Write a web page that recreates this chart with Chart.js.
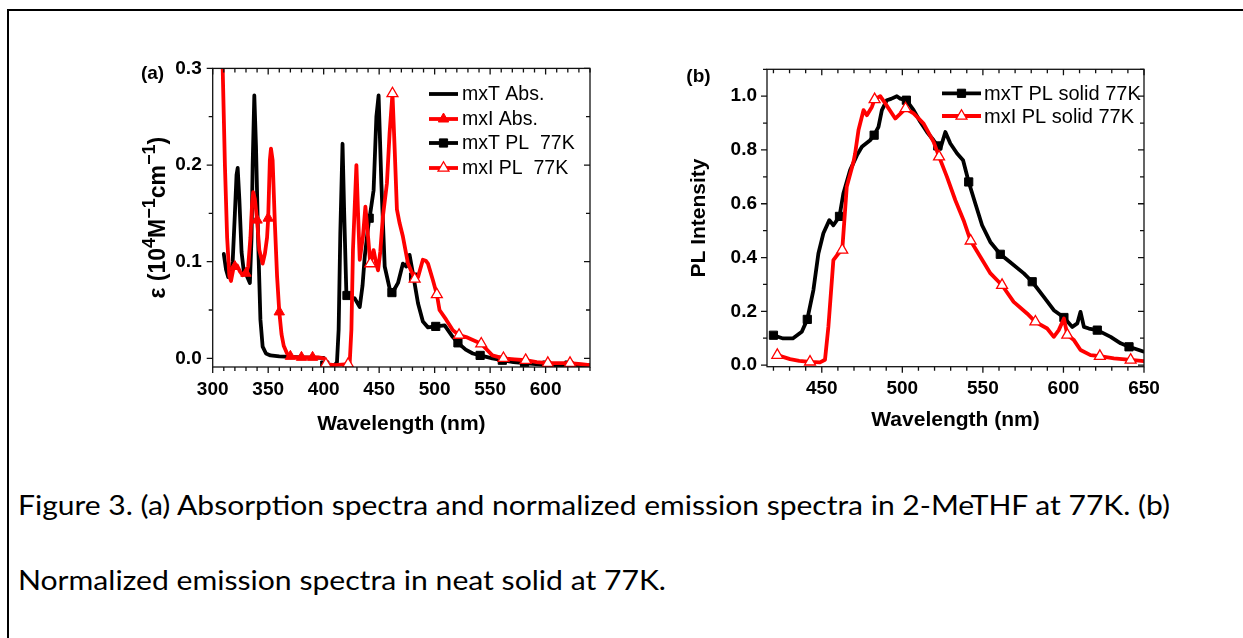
<!DOCTYPE html>
<html><head><meta charset="utf-8">
<script src="https://cdn.jsdelivr.net/npm/chart.js@4.4.0/dist/chart.umd.min.js"></script>
<style>
html,body{margin:0;padding:0;background:#fff;width:1243px;height:638px;overflow:hidden;position:relative}
#frame{position:absolute;left:7px;top:9px;width:1300px;height:700px;border-left:2px solid #000;border-top:2px solid #000}
canvas{position:absolute}
.cap{position:absolute;left:18px;font-family:Lato,'Open Sans',sans-serif;font-size:26px;line-height:1.2;color:#000;white-space:nowrap;transform-origin:0 0}
</style></head><body>
<div id="frame"></div>
<canvas id="ca" width="520" height="420" style="left:100px;top:30px"></canvas>
<canvas id="cb" width="530" height="420" style="left:650px;top:30px"></canvas>
<div class="cap" id="cap1" style="top:490px">Figure 3. (a) Absorption spectra and normalized emission spectra in 2-MeTHF at 77K. (b)</div>
<div class="cap" id="cap2" style="top:565px">Normalized emission spectra in neat solid at 77K.</div>
<script>
// ---------- Panel (a) data ----------
const aXTicks = [300, 350, 400, 450, 500, 550, 600];
const aYTicks = [0.0, 0.1, 0.2, 0.3];

const aMxTAbsWl  = [310,312,314,316,318,320,321.5,322.5,324,326,328,330.5,333.5,335,336,337.5,339,341,343,345,348,352,360,380,400];
const aMxTAbsVal = [0.108,0.092,0.084,0.085,0.100,0.150,0.190,0.197,0.165,0.110,0.090,0.086,0.078,0.125,0.200,0.272,0.220,0.120,0.040,0.012,0.005,0.003,0.002,0.001,0.0005];

const aMxIAbsWl  = [306,309,311,313,315,316.5,318.5,320,322,324.5,327,330,332,334,335.5,336.5,338,340,342,345,347,349,350,351.5,352.5,354,356,358,360,362,364,367,370,375,380,385,390,395,400];
const aMxIAbsVal = [0.50,0.30,0.20,0.125,0.085,0.080,0.092,0.095,0.096,0.090,0.086,0.088,0.095,0.125,0.160,0.172,0.165,0.143,0.112,0.098,0.108,0.125,0.145,0.205,0.217,0.205,0.140,0.085,0.048,0.025,0.013,0.005,0.002,0.001,0.001,0.001,0.001,0.001,0.000];
const aMxIAbsMarks = [320,330,340,350,360,370,380,390];

const aMxTPLWl  = [400,401,410,412,413.5,415,417,418.5,420.5,421,424,428,432.5,435,437,441,442,445,447.5,449.5,452,455,459.5,461.5,464,467,471.4,474.5,477.4,481,485,489.4,494,501,509,516.4,521,528,534.4,541,552,561,571,581,591,601,611,621,631,640];
const aMxTPLVal = [-0.007,-0.007,-0.007,-0.004,0.030,0.130,0.222,0.150,0.065,0.065,0.063,0.062,0.053,0.075,0.105,0.145,0.150,0.174,0.250,0.272,0.181,0.095,0.072,0.068,0.072,0.078,0.098,0.095,0.107,0.084,0.057,0.038,0.032,0.033,0.034,0.022,0.016,0.009,0.005,0.003,0.000,-0.002,-0.004,-0.005,-0.006,-0.007,-0.007,-0.007,-0.007,-0.007];
const aMxTPLMarks = [401,421,441,461.5,481,501,521,541,561,581,601,621];

const aMxIPLWl  = [400,402,410,422,423.5,425,426.4,429.5,431,432.5,435.4,437.6,440,442,445,447,449,451,453.4,457,459.4,462,464,466,468.4,471.4,476,482,485,489.4,492,494,498.4,502,504.4,510.4,516.4,522,528.4,534.4,542,552,562,572,582,592,602,612,622,632,640];
const aMxIPLVal = [-0.006,-0.006,-0.007,-0.006,-0.004,0.030,0.112,0.200,0.150,0.102,0.126,0.157,0.126,0.098,0.112,0.100,0.091,0.110,0.147,0.181,0.233,0.274,0.216,0.154,0.140,0.126,0.098,0.082,0.084,0.102,0.101,0.098,0.081,0.066,0.050,0.040,0.029,0.024,0.022,0.019,0.015,0.003,0.000,-0.001,-0.002,-0.004,-0.005,-0.005,-0.005,-0.006,-0.007];
const aMxIPLMarks = [402,422,442,462,482,502,522,542,562,582,602,622];

// ---------- Panel (b) data ----------
const bXTicks = [450, 500, 550, 600, 650];
const bYTicks = [0.0, 0.2, 0.4, 0.6, 0.8, 1.0];

const bMxTWl  = [420,426,432,437.6,441,444.8,447.9,451,454.7,457.2,461,463.4,467.6,471.8,474.9,480,482.5,485.2,487.3,490.4,493,496.6,498.7,502.5,507,511.1,515.3,519.4,522,523.6,526.7,529.8,534,537.7,541.2,545.3,549.5,554.6,560.8,566.6,575.4,580.6,587.8,594,600.3,605.5,608.6,610.6,612.7,615.8,621,629.3,635.5,640.7,650];
const bMxTVal = [0.111,0.099,0.099,0.124,0.170,0.279,0.415,0.490,0.539,0.520,0.553,0.638,0.725,0.780,0.812,0.836,0.855,0.886,0.948,0.985,0.990,1.000,0.991,0.985,0.948,0.905,0.867,0.836,0.815,0.805,0.867,0.824,0.787,0.762,0.681,0.601,0.520,0.458,0.412,0.384,0.341,0.310,0.254,0.204,0.177,0.142,0.155,0.198,0.142,0.136,0.130,0.105,0.081,0.068,0.050];
const bMxTMarks = [420,441,461,482.5,502.5,522,541.2,560.8,580.6,600.3,621,640.7];

const bMxIWl  = [422.4,430.3,436,442.7,448.9,452,454.1,457.2,460.3,462.7,465.5,469.7,470.7,472.8,475.9,478,481.1,482.8,486.3,489.4,495.6,502,507,513.2,519.4,522.8,527.7,532.9,538,542.4,548.4,554.7,561.9,569.1,577.4,582.6,589.9,594,597.1,600.3,602.4,606.5,610.6,616.8,622.6,631.3,641.7,650];
const bMxIVal = [0.037,0.022,0.016,0.012,0.010,0.020,0.142,0.390,0.415,0.428,0.663,0.756,0.787,0.874,0.948,0.929,0.960,0.988,1.000,0.973,0.917,0.954,0.936,0.898,0.830,0.775,0.700,0.613,0.539,0.462,0.403,0.341,0.297,0.235,0.192,0.161,0.136,0.105,0.130,0.173,0.112,0.093,0.056,0.037,0.033,0.025,0.019,0.015];
const bMxIMarks = [422.4,442.7,462.7,482.8,502,522.8,542.4,561.9,582.6,602.4,622.6,641.7];

// ---------- helpers ----------
const pts = (xs, ys) => xs.map((x, i) => ({x, y: ys[i]}));
const marker = (marks, r) => (ctx) => (ctx.raw && marks.includes(ctx.raw.x)) ? r : 0;
const FAM = "'Liberation Sans', Arial, sans-serif";

Chart.defaults.font.family = FAM;
Chart.defaults.color = '#000';

const frameTicks = {
  id: 'frameTicks',
  afterDraw(chart, args, o) {
    const {ctx, chartArea: ca, scales: {x, y}} = chart;
    ctx.save();
    ctx.strokeStyle = '#111';
    ctx.lineWidth = 1.3;
    ctx.strokeRect(ca.left, ca.top, ca.right - ca.left, ca.bottom - ca.top);
    ctx.beginPath();
    const isMaj = (v, m) => Math.abs(v / m - Math.round(v / m)) < 1e-6;
    for (let k = 0; ; k++) {
      const v = o.xStart + k * o.xMinor;
      if (v > x.max + 1e-9) break;
      if (v < x.min - 1e-9) continue;
      const p = x.getPixelForValue(v);
      const L = isMaj(v, o.xMajor) ? o.majLen : o.minLen;
      ctx.moveTo(p, ca.bottom); ctx.lineTo(p, ca.bottom + L);
      ctx.moveTo(p, ca.top); ctx.lineTo(p, ca.top + L);
    }
    for (let k = 0; ; k++) {
      const v = o.yStart + k * o.yMinor;
      if (v > y.max + 1e-9) break;
      if (v < y.min - 1e-9) continue;
      const p = y.getPixelForValue(v);
      const L = isMaj(v, o.yMajor) ? o.majLen : o.minLen;
      ctx.moveTo(ca.left - L, p); ctx.lineTo(ca.left, p);
      ctx.moveTo(ca.right - L, p); ctx.lineTo(ca.right, p);
    }
    ctx.stroke();

    // legend
    const lg = o.legend;
    chart.data.datasets.forEach((ds, i) => {
      const yy = lg.rows[i];
      ctx.strokeStyle = ds.borderColor;
      ctx.lineWidth = ds.borderWidth;
      ctx.beginPath(); ctx.moveTo(lg.x0, yy); ctx.lineTo(lg.x1, yy); ctx.stroke();
      if (ds.legendMark) {
        ctx.fillStyle = ds.pointBackgroundColor;
        ctx.strokeStyle = ds.pointBorderColor;
        ctx.lineWidth = ds.pointBorderWidth;
        Chart.helpers.drawPoint(ctx, {pointStyle: ds.pointStyle, radius: ds.legendRadius, borderWidth: ds.pointBorderWidth, rotation: 0}, (lg.x0 + lg.x1) / 2, yy);
      }
      ctx.fillStyle = '#000';
      ctx.font = lg.font;
      ctx.textAlign = 'left';
      ctx.textBaseline = 'middle';
      ctx.fillText(ds.label, lg.textX, yy + 1);
    });
    // panel label
    ctx.font = 'bold 19px ' + FAM;
    ctx.textAlign = 'center';
    ctx.textBaseline = 'middle';
    ctx.fillText(o.panel.text, o.panel.x, o.panel.y);

    // rotated axis title with superscripts
    if (o.yTitleParts) {
      const parts = o.yTitleParts;
      ctx.textAlign = 'left';
      ctx.textBaseline = 'alphabetic';
      let total = 0;
      parts.forEach(p => { ctx.font = 'bold ' + p.s + 'px ' + FAM; p.w = ctx.measureText(p.t).width; total += p.w; });
      ctx.translate(o.yTitlePos.x, (ca.top + ca.bottom) / 2 + o.yTitlePos.dy);
      ctx.rotate(-Math.PI / 2);
      let u = -total / 2;
      parts.forEach(p => {
        ctx.font = 'bold ' + p.s + 'px ' + FAM;
        ctx.fillText(p.t, u, p.sup ? -2 : 8);
        u += p.w;
      });
    }
    ctx.restore();
  }
};

function lineDs(label, xs, ys, color, opts) {
  return Object.assign({
    label, data: pts(xs, ys), borderColor: color, backgroundColor: color,
    borderWidth: 3.8, tension: 0, pointRadius: 0, pointHoverRadius: 0,
    borderJoinStyle: 'round', borderCapStyle: 'round', legendMark: false
  }, opts || {});
}

function scales(xmin, xmax, xTicks, ymin, ymax, yTicks, cfg) {
  const tickFont = {size: 19, weight: 'bold'};
  const titleFont = {size: 21, weight: 'bold', lineHeight: 1};
  return {
    x: {
      type: 'linear', min: xmin, max: xmax,
      afterBuildTicks: s => { s.ticks = xTicks.map(v => ({value: v})); },
      afterFit: s => { s.height = cfg.xH; },
      grid: {display: false, drawTicks: false},
      border: {display: false},
      ticks: {font: tickFont, color: '#000', padding: cfg.xPad, maxRotation: 0, autoSkip: false, callback: v => String(v)},
      title: {display: true, text: 'Wavelength (nm)', font: titleFont, color: '#000', padding: {top: 0, bottom: cfg.xTitlePad}}
    },
    y: {
      type: 'linear', min: ymin, max: ymax,
      afterBuildTicks: s => { s.ticks = yTicks.map(v => ({value: v})); },
      afterFit: s => { s.width = cfg.yW; },
      grid: {display: false, drawTicks: false},
      border: {display: false},
      ticks: {font: tickFont, color: '#000', padding: cfg.yPad, autoSkip: false, callback: v => Number(v).toFixed(1)},
      title: {display: !!cfg.yTitle, text: cfg.yTitle || '', font: titleFont, color: '#000', padding: {top: cfg.yTitlePad, bottom: 0}}
    }
  };
}

const RED = '#ff0000', BLACK = '#000000';

new Chart(document.getElementById('ca'), {
  type: 'line',
  data: {
    datasets: [
      lineDs('mxT Abs.', aMxTAbsWl, aMxTAbsVal, BLACK, {order: 1}),
      lineDs('mxI Abs.', aMxIAbsWl, aMxIAbsVal, RED, {order: 0, pointStyle: 'triangle', pointRadius: marker(aMxIAbsMarks, 6), pointBackgroundColor: RED, pointBorderColor: RED, pointBorderWidth: 1, legendMark: true, legendRadius: 6}),
      lineDs('mxT PL  77K', aMxTPLWl, aMxTPLVal, BLACK, {order: 1, pointStyle: 'rect', pointRadius: marker(aMxTPLMarks, 5.8), pointBackgroundColor: BLACK, pointBorderColor: BLACK, pointBorderWidth: 1, legendMark: true, legendRadius: 5.8}),
      lineDs('mxI PL  77K', aMxIPLWl, aMxIPLVal, RED, {order: 0, pointStyle: 'triangle', pointRadius: marker(aMxIPLMarks, 6.3), pointBackgroundColor: '#ffffff', pointBorderColor: RED, pointBorderWidth: 1.3, legendMark: true, legendRadius: 6.3})
    ]
  },
  options: {
    responsive: false, animation: false, devicePixelRatio: 1,
    layout: {padding: {top: 38.4, right: 30, left: 0, bottom: 0}},
    plugins: {
      legend: {display: false}, tooltip: {enabled: false},
      frameTicks: {xStart: 300, xMinor: 10, xMajor: 50, yStart: -0.05, yMinor: 0.05, yMajor: 0.1, majLen: 6, minLen: 4,
        legend: {x0: 329, x1: 358, textX: 362, rows: [64, 89, 113, 138], font: '19.5px ' + FAM},
        panel: {text: '(a)', x: 52.5, y: 44},
        yTitleParts: [{t: 'ε (10', s: 23}, {t: '4', s: 18, sup: true}, {t: 'M', s: 23}, {t: '−1', s: 18, sup: true}, {t: 'cm', s: 23}, {t: '−1', s: 18, sup: true}, {t: ')', s: 23}],
        yTitlePos: {x: 57, dy: 0}}
    },
    scales: scales(300, 640, aXTicks, -0.009, 0.3, aYTicks,
      {xH: 83, xPad: 11.6, xTitlePad: 15.5, yW: 112.7, yPad: 11, yTitlePad: 46.5, yTitle: null})
  },
  plugins: [frameTicks]
});

new Chart(document.getElementById('cb'), {
  type: 'line',
  data: {
    datasets: [
      lineDs('mxT PL solid 77K', bMxTWl, bMxTVal, BLACK, {order: 1, pointStyle: 'rect', pointRadius: marker(bMxTMarks, 5.8), pointBackgroundColor: BLACK, pointBorderColor: BLACK, pointBorderWidth: 1, legendMark: true, legendRadius: 5.8}),
      lineDs('mxI PL solid 77K', bMxIWl, bMxIVal, RED, {order: 0, pointStyle: 'triangle', pointRadius: marker(bMxIMarks, 6.3), pointBackgroundColor: '#ffffff', pointBorderColor: RED, pointBorderWidth: 1.3, legendMark: true, legendRadius: 6.3})
    ]
  },
  options: {
    responsive: false, animation: false, devicePixelRatio: 1,
    layout: {padding: {top: 39.3, right: 36, left: 0, bottom: 0}},
    plugins: {
      legend: {display: false}, tooltip: {enabled: false},
      frameTicks: {xStart: 420, xMinor: 10, xMajor: 50, yStart: 0, yMinor: 0.1, yMajor: 0.2, majLen: 6, minLen: 4,
        legend: {x0: 292, x1: 331, textX: 334, rows: [63.3, 86], font: '20px ' + FAM},
        panel: {text: '(b)', x: 48.5, y: 47}}
    },
    scales: scales(416, 650, bXTicks, -0.006, 1.1, bYTicks,
      {xH: 83.3, xPad: 10.9, xTitlePad: 19.5, yW: 117, yPad: 10, yTitlePad: 38.5, yTitle: 'PL Intensity'})
  },
  plugins: [frameTicks]
});

// caption width fit
[['cap1', 1152], ['cap2', 648]].forEach(([id, w]) => {
  const el = document.getElementById(id);
  const cw = el.getBoundingClientRect().width;
  el.style.transform = 'scaleX(' + (w / cw) + ')';
});
</script>
</body></html>
